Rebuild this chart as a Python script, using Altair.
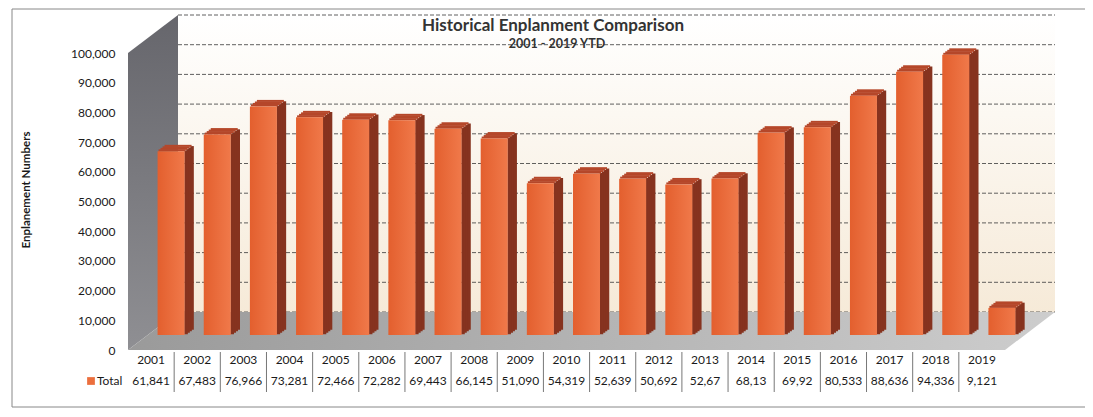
import altair as alt
import pandas as pd

# ---------------- data ----------------
years = [str(y) for y in range(2001, 2020)]
values = [61841, 67483, 76966, 73281, 72466, 72282, 69443, 66145, 51090, 54319,
          52639, 50692, 52670, 68130, 69920, 80533, 88636, 94336, 9121]
table_labels = ["61,841", "67,483", "76,966", "73,281", "72,466", "72,282", "69,443",
                "66,145", "51,090", "54,319", "52,639", "50,692", "52,67", "68,13",
                "69,92", "80,533", "88,636", "94,336", "9,121"]
ticks = list(range(0, 100001, 10000))
series_name = "Total"
title_text = "Historical Enplanment Comparison"
subtitle_text = "2001 - 2019 YTD"
y_title = "Enplanement Numbers"

# ---------------- layout constants ----------------
W, H = 877, 297
YMAX = 100000
PXV = YMAX / H                 # value units per pixel
DX, DY = 50, 38                # depth of 3-D box in px
DV = DY * PXV                  # depth in value units
BAR_W = 27
BAR_DX, BAR_DY = 20, 15        # bar front plane position inside depth
STEP = W / len(years)
FONT = "Lato"
TXT = "#1a1a1a"

df = pd.DataFrame({"year": years, "value": values, "label": table_labels})

yscale = alt.Scale(domain=[0, YMAX], nice=False, zero=True)
xband = alt.Scale(domain=years, paddingInner=0, paddingOuter=0)
xq = alt.Scale(domain=[0, W / DX], nice=False, zero=False)

def grad(c1, c2, horizontal=True):
    return alt.LinearGradient(
        gradient="linear",
        stops=[alt.GradientStop(color=c1, offset=0), alt.GradientStop(color=c2, offset=1)],
        x1=0, x2=1 if horizontal else 0, y1=0, y2=0 if horizontal else 1)

# ---------------- 3-D box (walls and floor) ----------------
back = pd.DataFrame({"d": [1, W / DX + 1], "top": [YMAX + DV] * 2, "bot": [DV] * 2})
side = pd.DataFrame({"d": [0, 1], "top": [YMAX, YMAX + DV], "bot": [0, DV]})
floor = pd.DataFrame({"d": [0, 1, W / DX, W / DX + 1],
                      "top": [0, DV, DV, DV], "bot": [0, 0, 0, DV]})

def box_layer(data, fill):
    return alt.Chart(data).mark_area(color=fill, line=False).encode(
        x=alt.X("d:Q", scale=xq, axis=None),
        y=alt.Y("top:Q", scale=yscale, axis=None),
        y2="bot:Q")

back_l = box_layer(back, grad("#ffffff", "#f6ead8", horizontal=False))
side_l = box_layer(side, grad("#66666c", "#8f8f93", horizontal=False))
floor_l = box_layer(floor, grad("#9a9a9a", "#cdcdcd", horizontal=True))

grid_l = alt.Chart(pd.DataFrame({"g": ticks})).mark_rule(
    color="#444444", strokeWidth=1, strokeDash=[4, 2], yOffset=-DY, opacity=0.85
).encode(y=alt.Y("g:Q", scale=yscale, axis=None), x=alt.value(DX), x2=alt.value(W + DX))

# ---------------- bars ----------------
base = alt.Chart(df).encode(x=alt.X("year:O", scale=xband, axis=None))
SIDE_C = "#86331f"
TOP_C = "#b5472a"
layers_bars = []
n = 4
for k in range(n):
    off = -BAR_DY - 1.5 * (k + 0.5)
    layers_bars.append(base.mark_bar(
        width=3.5, xOffset=BAR_DX + BAR_W / 2 + 2 * k + 1.5, yOffset=off, y2Offset=off,
        color=SIDE_C, strokeWidth=0
    ).encode(y=alt.Y("value:Q", scale=yscale, axis=None), y2=alt.datum(0)))
for k in range(n):
    layers_bars.append(base.mark_bar(
        width=BAR_W, xOffset=BAR_DX + 2 * k + 1,
        yOffset=-BAR_DY - 1.5 * (k + 1) - 0.5, y2Offset=-BAR_DY - 1.5 * k, color=TOP_C,
        strokeWidth=0
    ).encode(y=alt.Y("value:Q", scale=yscale, axis=None), y2=alt.Y2("value:Q")))

front_l = base.mark_bar(
    width=BAR_W, xOffset=BAR_DX, yOffset=-BAR_DY, y2Offset=-BAR_DY,
    color=grad("#e35f2e", "#f0794a", horizontal=True)
).encode(
    y=alt.Y("value:Q", scale=yscale,
            axis=alt.Axis(values=ticks, format=",.0f", domain=False, ticks=False, grid=False,
                          labelPadding=13, title=None, labelFont=FONT, labelFontSize=12,
                          labelColor=TXT)),
    y2=alt.datum(0))

# ---------------- data table ----------------
year_txt = base.mark_text(font=FONT, fontSize=12, color=TXT).encode(
    y=alt.value(307), text="year:N")
val_txt = base.mark_text(font=FONT, fontSize=12, color=TXT).encode(
    y=alt.value(328), text="label:N")
sep_l = alt.Chart(df.iloc[1:]).mark_rule(color="#777777", strokeWidth=1, xOffset=-STEP / 2).encode(
    x=alt.X("year:O", scale=xband, axis=None), y=alt.value(299), y2=alt.value(339))

legend_df = pd.DataFrame({"name": [series_name]})
leg_sq = alt.Chart(legend_df).mark_point(shape="square", filled=True, size=60,
                                         color="#ec6f3d", opacity=1).encode(
    x=alt.value(-37), y=alt.value(328))
leg_txt = alt.Chart(legend_df).mark_text(font=FONT, fontSize=12, color=TXT,
                                         align="left").encode(
    x=alt.value(-31), y=alt.value(328), text="name:N")

# ---------------- titles ----------------
t_df = pd.DataFrame({"t": [title_text]})
st_df = pd.DataFrame({"t": [subtitle_text]})
yt_df = pd.DataFrame({"t": [y_title]})
title_l = alt.Chart(t_df).mark_text(font=FONT, fontSize=17, fontWeight="bold",
                                    color="#333333").encode(
    x=alt.value(425), y=alt.value(-27), text="t:N")
sub_l = alt.Chart(st_df).mark_text(font=FONT, fontSize=12.5, fontWeight="bold",
                                   color="#333333").encode(
    x=alt.value(429), y=alt.value(-9), text="t:N")
ytitle_l = alt.Chart(yt_df).mark_text(font=FONT, fontSize=11.5, fontWeight="bold",
                                      color=TXT, angle=270).encode(
    x=alt.value(-101), y=alt.value(137), text="t:N")

# ---------------- border ----------------
border_l = alt.Chart(pd.DataFrame({"a": [1]})).mark_rule(color="#888888", strokeWidth=1).encode(
    x=alt.value(-116), y=alt.value(-44), y2=alt.value(354))
border_t = alt.Chart(pd.DataFrame({"a": [1]})).mark_rule(color="#888888", strokeWidth=1).encode(
    x=alt.value(-116), x2=alt.value(960), y=alt.value(-44))
border_b = alt.Chart(pd.DataFrame({"a": [1]})).mark_rule(color="#888888", strokeWidth=1).encode(
    x=alt.value(-116), x2=alt.value(960), y=alt.value(354))

chart = alt.layer(
    back_l, grid_l, side_l, floor_l, *layers_bars, front_l,
    sep_l, year_txt, val_txt, leg_sq, leg_txt, title_l, sub_l, ytitle_l,
    border_l, border_t, border_b
).resolve_scale(x="independent").resolve_axis(y="independent").properties(
    width=W, height=H,
    padding={"left": 120, "top": 45, "right": 80, "bottom": 59},
    autosize=alt.AutoSizeParams(type="none"),
    background="white",
).configure_view(stroke=None)

chart.save("out.html", embed_options={"renderer": "svg", "actions": False})
